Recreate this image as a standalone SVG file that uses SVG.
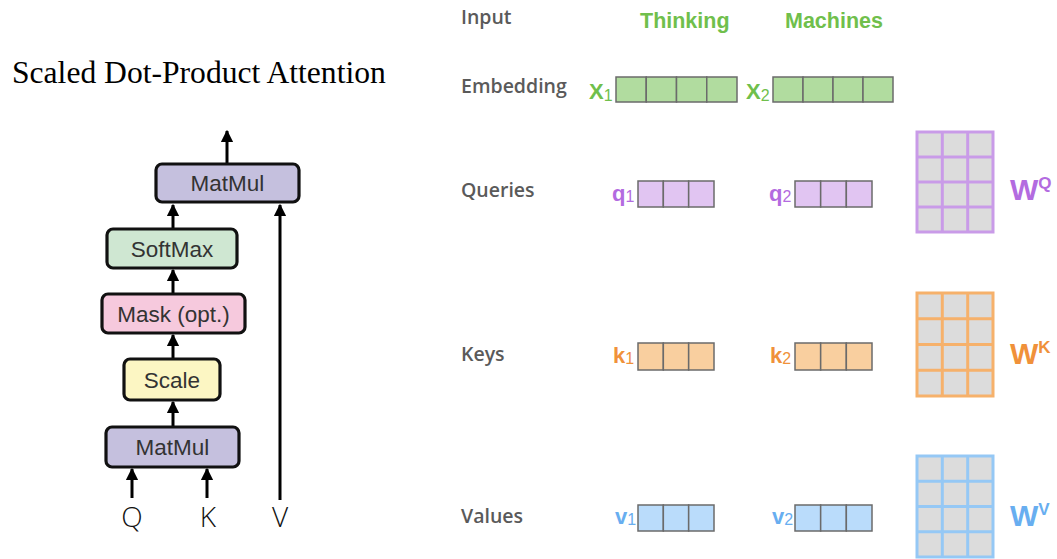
<svg xmlns="http://www.w3.org/2000/svg" width="1057" height="559" viewBox="0 0 1057 559">
  <style>
    .op { stroke: #111; stroke-width: 3.2; }
    .op-t { font-family: "Liberation Sans", Arial, sans-serif; font-size: 22.5px; fill: #333; text-anchor: middle; }
    .wire { stroke: #000; stroke-width: 3; fill: none; }
    .io { font-family: "Open Sans", "Liberation Sans", sans-serif; font-weight: 300; font-size: 28px; fill: #111; text-anchor: middle; }
    .row { font-family: "Open Sans", "Liberation Sans", sans-serif; font-weight: 600; font-size: 19.5px; fill: #5a5a5a; }
    .word { font-family: "Liberation Sans", Arial, sans-serif; font-size: 21.5px; font-weight: bold; fill: #70bf4c; }
    .vlab { font-family: "Liberation Sans", Arial, sans-serif; font-weight: bold; font-size: 22px; }
    .sub { font-size: 16px; font-weight: normal; }
    .cell { stroke: #6b6b6b; stroke-width: 1.5; }
    .wlab { font-family: "Liberation Sans", Arial, sans-serif; font-weight: bold; font-size: 30px; }
    .wsup { font-size: 17px; }
  </style>
  <defs>
    <marker id="head" viewBox="0 0 10 10" refX="9" refY="5" markerWidth="4.2" markerHeight="4.2" orient="auto">
      <path d="M0,0 L10,5 L0,10 z" fill="#000"/>
    </marker>
  </defs>

  <rect width="1057" height="559" fill="#fff"/>

  <!-- Attention block title -->
  <text x="12" y="83" font-family="Liberation Serif, Times New Roman, serif" font-size="31.6" fill="#000">Scaled Dot-Product Attention</text>

  <!-- connectors of the attention block -->
  <g id="connectors">
    <line class="wire" x1="227" y1="163" x2="227" y2="131" marker-end="url(#head)"/>
    <line class="wire" x1="173" y1="229" x2="173" y2="205" marker-end="url(#head)"/>
    <line class="wire" x1="173" y1="294" x2="173" y2="270" marker-end="url(#head)"/>
    <line class="wire" x1="173" y1="359" x2="173" y2="335" marker-end="url(#head)"/>
    <line class="wire" x1="173" y1="427" x2="173" y2="402" marker-end="url(#head)"/>
    <line class="wire" x1="132" y1="498" x2="132" y2="469" marker-end="url(#head)"/>
    <line class="wire" x1="207" y1="498" x2="207" y2="469" marker-end="url(#head)"/>
    <line class="wire" x1="280" y1="500" x2="280" y2="205" marker-end="url(#head)"/>
  </g>

  <g id="matmul-top">
    <rect class="op" x="156" y="164" width="143" height="38" rx="6" fill="#c5c0de"/>
    <text class="op-t" x="227.5" y="191">MatMul</text>
  </g>
  <g id="softmax">
    <rect class="op" x="107" y="229" width="130" height="39" rx="6" fill="#cfe7d2"/>
    <text class="op-t" x="172" y="256.5">SoftMax</text>
  </g>
  <g id="mask">
    <rect class="op" x="102" y="294" width="143" height="39" rx="6" fill="#f6c9dd"/>
    <text class="op-t" x="173.5" y="321.5">Mask (opt.)</text>
  </g>
  <g id="scale">
    <rect class="op" x="124" y="359" width="96" height="41" rx="6" fill="#fcf6c3"/>
    <text class="op-t" x="172" y="387.5">Scale</text>
  </g>
  <g id="matmul-bottom">
    <rect class="op" x="106" y="427" width="133" height="40" rx="6" fill="#c5c0de"/>
    <text class="op-t" x="172.5" y="455">MatMul</text>
  </g>
  <g id="inputs">
    <text class="io" x="132" y="527">Q</text>
    <text class="io" x="208" y="527">K</text>
    <text class="io" x="280" y="527">V</text>
  </g>

  <!-- row captions -->
  <g id="row-labels">
    <text class="row" x="461" y="24">Input</text>
    <text class="row" x="461" y="93">Embedding</text>
    <text class="row" x="461" y="197">Queries</text>
    <text class="row" x="461" y="361">Keys</text>
    <text class="row" x="461" y="523">Values</text>
  </g>

  <g id="words">
    <text class="word" x="640" y="28">Thinking</text>
    <text class="word" x="785" y="28">Machines</text>
  </g>

  <!-- embeddings -->
  <g id="x1">
    <text class="vlab" x="589" y="99" fill="#70bf4c">X<tspan class="sub" dy="2">1</tspan></text>
    <g fill="#b1dc9f" class="cell">
      <rect x="616" y="77" width="30.25" height="25"/>
      <rect x="646.25" y="77" width="30.25" height="25"/>
      <rect x="676.5" y="77" width="30.25" height="25"/>
      <rect x="706.75" y="77" width="30.25" height="25"/>
    </g>
  </g>
  <g id="x2">
    <text class="vlab" x="746" y="99" fill="#70bf4c">X<tspan class="sub" dy="2">2</tspan></text>
    <g fill="#b1dc9f" class="cell">
      <rect x="773" y="77" width="30" height="25"/>
      <rect x="803" y="77" width="30" height="25"/>
      <rect x="833" y="77" width="30" height="25"/>
      <rect x="863" y="77" width="30" height="25"/>
    </g>
  </g>

  <!-- queries -->
  <g id="q1">
    <text class="vlab" x="612" y="201" fill="#b36be0">q<tspan class="sub" dy="1">1</tspan></text>
    <g fill="#e1c5f2" class="cell">
      <rect x="638" y="181" width="25.33" height="26"/>
      <rect x="663.33" y="181" width="25.33" height="26"/>
      <rect x="688.67" y="181" width="25.33" height="26"/>
    </g>
  </g>
  <g id="q2">
    <text class="vlab" x="769" y="201" fill="#b36be0">q<tspan class="sub" dy="1">2</tspan></text>
    <g fill="#e1c5f2" class="cell">
      <rect x="795" y="181" width="25.67" height="26"/>
      <rect x="820.67" y="181" width="25.67" height="26"/>
      <rect x="846.33" y="181" width="25.67" height="26"/>
    </g>
  </g>

  <!-- keys -->
  <g id="k1">
    <text class="vlab" x="613" y="363" fill="#f0913a">k<tspan class="sub" dy="1">1</tspan></text>
    <g fill="#f9cf9f" class="cell">
      <rect x="638" y="343" width="25.33" height="27"/>
      <rect x="663.33" y="343" width="25.33" height="27"/>
      <rect x="688.67" y="343" width="25.33" height="27"/>
    </g>
  </g>
  <g id="k2">
    <text class="vlab" x="770" y="363" fill="#f0913a">k<tspan class="sub" dy="1">2</tspan></text>
    <g fill="#f9cf9f" class="cell">
      <rect x="795" y="343" width="25.67" height="27"/>
      <rect x="820.67" y="343" width="25.67" height="27"/>
      <rect x="846.33" y="343" width="25.67" height="27"/>
    </g>
  </g>

  <!-- values -->
  <g id="v1">
    <text class="vlab" x="615" y="524" fill="#68aef0">v<tspan class="sub" dy="1">1</tspan></text>
    <g fill="#badcfb" class="cell">
      <rect x="638" y="505" width="25.33" height="26"/>
      <rect x="663.33" y="505" width="25.33" height="26"/>
      <rect x="688.67" y="505" width="25.33" height="26"/>
    </g>
  </g>
  <g id="v2">
    <text class="vlab" x="772" y="524" fill="#68aef0">v<tspan class="sub" dy="1">2</tspan></text>
    <g fill="#badcfb" class="cell">
      <rect x="795" y="505" width="25.67" height="26"/>
      <rect x="820.67" y="505" width="25.67" height="26"/>
      <rect x="846.33" y="505" width="25.67" height="26"/>
    </g>
  </g>

  <!-- weight matrices: 3 columns x 4 rows -->
  <g id="wq">
    <g stroke="#c99be8" stroke-width="3" fill="#dcdcdc">
      <rect x="917" y="132" width="76" height="100"/>
      <line x1="942.3" y1="132" x2="942.3" y2="232"/>
      <line x1="967.7" y1="132" x2="967.7" y2="232"/>
      <line x1="917" y1="157" x2="993" y2="157"/>
      <line x1="917" y1="182" x2="993" y2="182"/>
      <line x1="917" y1="207" x2="993" y2="207"/>
    </g>
    <text class="wlab" x="1010" y="200" fill="#b36be0">W<tspan class="wsup" dy="-11">Q</tspan></text>
  </g>
  <g id="wk">
    <g stroke="#f6b16b" stroke-width="3" fill="#dcdcdc">
      <rect x="917" y="293" width="76" height="103"/>
      <line x1="942.3" y1="293" x2="942.3" y2="396"/>
      <line x1="967.7" y1="293" x2="967.7" y2="396"/>
      <line x1="917" y1="318.75" x2="993" y2="318.75"/>
      <line x1="917" y1="344.5" x2="993" y2="344.5"/>
      <line x1="917" y1="370.25" x2="993" y2="370.25"/>
    </g>
    <text class="wlab" x="1010" y="364" fill="#f0913a">W<tspan class="wsup" dy="-11">K</tspan></text>
  </g>
  <g id="wv">
    <g stroke="#95c8f5" stroke-width="3" fill="#dcdcdc">
      <rect x="917" y="456" width="76" height="101"/>
      <line x1="942.3" y1="456" x2="942.3" y2="557"/>
      <line x1="967.7" y1="456" x2="967.7" y2="557"/>
      <line x1="917" y1="481.25" x2="993" y2="481.25"/>
      <line x1="917" y1="506.5" x2="993" y2="506.5"/>
      <line x1="917" y1="531.75" x2="993" y2="531.75"/>
    </g>
    <text class="wlab" x="1010" y="526" fill="#68aef0">W<tspan class="wsup" dy="-11">V</tspan></text>
  </g>
</svg>
